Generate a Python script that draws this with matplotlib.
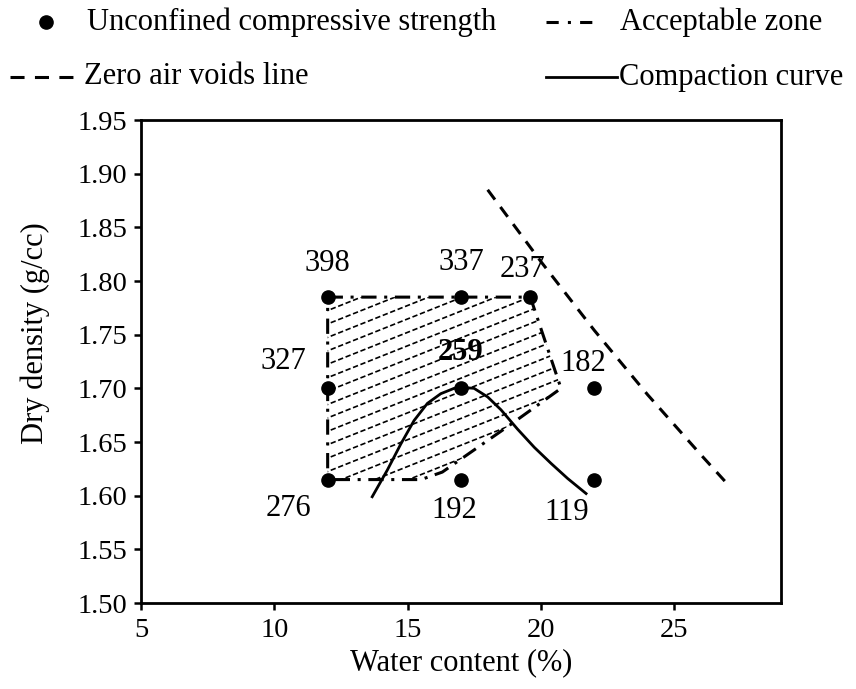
import numpy as np
import matplotlib
matplotlib.use("Agg")
import matplotlib.pyplot as plt
from matplotlib.patches import Polygon
from matplotlib.lines import Line2D

plt.rcParams['font.family'] = ['Liberation Serif', 'DejaVu Serif']

# Unconfined compressive strength points (kPa labels)
ucs_w = [12, 17, 19.6, 12, 17, 22, 12, 17, 22]
ucs_d = [1.785, 1.785, 1.785, 1.70, 1.70, 1.70, 1.615, 1.615, 1.615]
ucs_lbl = ['398', '337', '237', '327', '259', '182', '276', '192', '119']
lbl_off = [(0, 24), (0, 25), (-6, 20), (-32, 19), (0, 26), (-8, 18), (-28, -21), (-5, -22), (-20, -24)]

# Zero air voids line
zav_w = [18, 20, 22, 24, 26, 26.95]
zav_d = [1.885, 1.818, 1.754, 1.694, 1.638, 1.612]

# Compaction curve
cc_w = [13.67, 14.24, 14.74, 15.24, 15.74, 16.24, 16.74, 16.99, 17.49, 18.0, 18.5, 19.12, 19.75, 20.38, 21.0, 21.69]
cc_d = [1.599, 1.624, 1.648, 1.670, 1.686, 1.695, 1.700, 1.701, 1.700, 1.692, 1.680, 1.662, 1.645, 1.630, 1.616, 1.602]

# Acceptable zone boundary
zone_w = [12, 17, 19.6, 20.75, 18.9, 16.3, 15.5, 12, 12]
zone_d = [1.785, 1.785, 1.785, 1.70, 1.667, 1.622, 1.615, 1.615, 1.785]

FS = 22
fig = plt.figure(figsize=(8.56, 6.89), dpi=100)
ax = fig.add_axes([0.1647, 0.1248, 0.7477, 0.701])

# hatch of acceptable zone
poly = Polygon(np.column_stack([zone_w, zone_d]), closed=True, facecolor='none', edgecolor='none')
ax.add_patch(poly)
hx = np.array([11.0, 22.0])
for y0 in np.arange(1.56, 1.80, 0.0125):
    ln, = ax.plot(hx, y0 + 0.0099 * (hx - 12), color='black', lw=1.2,
                  linestyle=(0, (3.2, 1.6)), zorder=2)
    ln.set_clip_path(poly)

DASHDOT = (0, (5, 2.5, 1, 2.5))
DASH = (0, (4, 3))
ax.plot(zone_w, zone_d, color='black', lw=2.2, linestyle=DASHDOT, zorder=3)
ax.plot(zav_w, zav_d, color='black', lw=2.2, linestyle=DASH, zorder=3)
ax.plot(cc_w, cc_d, color='black', lw=2.0, zorder=4, solid_joinstyle='round')
ax.plot(ucs_w, ucs_d, 'o', color='black', markersize=9.5, zorder=5)

for w, d, t, o in zip(ucs_w, ucs_d, ucs_lbl, lbl_off):
    ax.annotate(t, (w, d), xytext=o, textcoords='offset points', ha='center', va='center',
                fontsize=FS, fontweight='bold' if t == '259' else 'normal', zorder=6)

ax.set_xlim(5, 29)
ax.set_ylim(1.50, 1.95)
ax.set_xticks([5, 10, 15, 20, 25])
yt = np.arange(1.50, 1.951, 0.05)
ax.set_yticks(yt)
ax.set_yticklabels([f'{v:.2f}' for v in yt])
ax.tick_params(direction='out', length=5, width=1.8, labelsize=20.5)
ax.tick_params(axis='x', pad=6)
ax.tick_params(axis='y', pad=5)
for s in ax.spines.values():
    s.set_linewidth(2.0)
ax.set_xlabel('Water content (%)', fontsize=FS)
ax.set_ylabel('Dry density (g/cc)', fontsize=FS)
ax.xaxis.set_label_coords(0.5, -0.093)
ax.yaxis.set_label_coords(-0.142, 0.559)

# legend (manual placement)
W, H = 856.0, 689.0
def fx(px):
    return px / W
def fy(py):
    return 1 - py / H
r1, r2 = 22, 77
fig.add_artist(Line2D([fx(46)], [fy(r1)], marker='o', color='black', markersize=9.5,
                      linestyle='none', transform=fig.transFigure))
fig.text(fx(87), fy(r1), 'Unconfined compressive strength', fontsize=FS, va='center', ha='left')
fig.add_artist(Line2D([fx(10), fx(74)], [fy(r2), fy(r2)], color='black', lw=2.2,
                      linestyle=(0, (4.6, 3.4)), transform=fig.transFigure))
fig.text(fx(84), fy(r2), 'Zero air voids line', fontsize=FS, va='center', ha='left')
fig.add_artist(Line2D([fx(546), fx(598)], [fy(r1), fy(r1)], color='black', lw=2.2,
                      linestyle=(0, (4, 3, 1, 3)), transform=fig.transFigure))
fig.text(fx(620), fy(r1), 'Acceptable zone', fontsize=FS, va='center', ha='left')
fig.add_artist(Line2D([fx(546), fx(617)], [fy(r2), fy(r2)], color='black', lw=2.0,
                      transform=fig.transFigure))
fig.text(fx(619), fy(r2), 'Compaction curve', fontsize=FS, va='center', ha='left')

fig.savefig('out.png', dpi=100)
